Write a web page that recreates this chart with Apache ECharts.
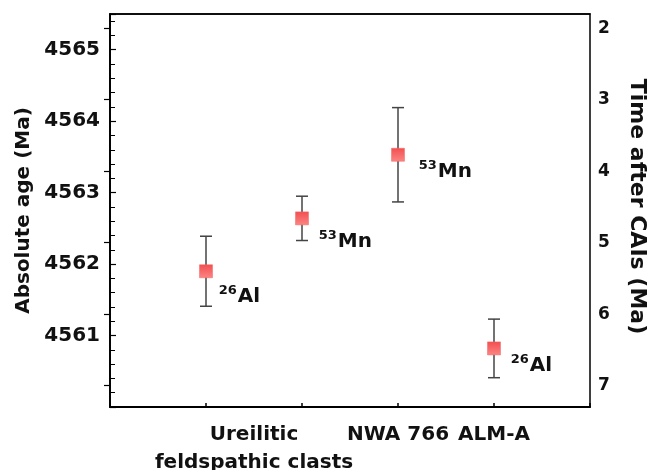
<!DOCTYPE html>
<html>
<head>
<meta charset="utf-8">
<script src="https://cdn.jsdelivr.net/npm/echarts@6/dist/echarts.min.js"></script>
<style>
html,body{margin:0;padding:0;background:#fff;}
#chart{width:655px;height:470px;}
</style>
</head>
<body>
<div id="chart"></div>
<script>
// ---- data ----
const pointX = [1, 2, 3, 4];
const ages = [4561.90, 4562.64, 4563.53, 4560.82];
const ageErr = [0.49, 0.31, 0.66, 0.41];
const isoMass = ['26', '53', '53', '26'];
const isoElem = ['Al', 'Mn', 'Mn', 'Al'];
const xLabelPos = [1.5, 3, 4];
const xLabelText = ['Ureilitic\nfeldspathic clasts', 'NWA 766', 'ALM-A'];
const ageMin = 4560, ageMax = 4565.5;
const caiAge = 4567.3;

// ---- layout (not data) ----
const labelNudge = [[13, 13], [17, 11], [21, 5], [17, 5]];

const chart = echarts.init(document.getElementById('chart'));
const FONT = 'DejaVu Sans';
const txt = '#111';

const scatterData = pointX.map((x, i) => ({
  value: [x, ages[i]],
  label: {
    formatter: '{sup|' + isoMass[i] + '}{el|' + isoElem[i] + '}',
    position: [6.5 + labelNudge[i][0], 6.5 + labelNudge[i][1]]
  }
}));
const errData = pointX.map((x, i) => [x, ages[i] - ageErr[i], ages[i] + ageErr[i]]);

chart.setOption({
  animation: false,
  textStyle: { fontFamily: FONT },
  grid: { left: 110, right: 65, top: 14, bottom: 63, containLabel: false, outerBoundsMode: 'none',
          show: true, borderColor: '#000', borderWidth: 1.5 },
  xAxis: [
    {
      type: 'value', min: 0, max: 5, interval: 1, position: 'bottom',
      axisLine: { show: true, lineStyle: { color: '#000', width: 2 } },
      axisTick: { show: true, inside: true, length: 4, lineStyle: { color: '#000', width: 1.5 } },
      axisLabel: { show: false },
      splitLine: { show: false }
    },
    {
      type: 'value', min: 0, max: 5, interval: 0.5, position: 'bottom',
      axisLine: { show: false }, axisTick: { show: false }, splitLine: { show: false },
      axisLabel: {
        show: true, margin: 14,
        fontFamily: FONT, fontWeight: 'bold', fontSize: 20, color: txt, lineHeight: 28,
        formatter: function (v) {
          const k = xLabelPos.findIndex(p => Math.abs(p - v) < 1e-6);
          return k >= 0 ? xLabelText[k] : '';
        }
      }
    },
    {
      type: 'value', min: 0, max: 5, position: 'top',
      axisLine: { show: true, lineStyle: { color: '#000', width: 1.5 } },
      axisTick: { show: false }, axisLabel: { show: false }, splitLine: { show: false }
    }
  ],
  yAxis: [
    {
      type: 'value', min: ageMin, max: ageMax, interval: 1, position: 'left',
      name: 'Absolute age (Ma)', nameLocation: 'middle', nameGap: 76, nameRotate: 90,
      nameTextStyle: { fontFamily: FONT, fontWeight: 'bold', fontSize: 20, color: txt },
      axisLine: { show: true, lineStyle: { color: '#000', width: 1.5 } },
      axisTick: { show: true, inside: true, length: 6, lineStyle: { color: '#000', width: 1.2 } },
      minorTick: { show: true, splitNumber: 5, length: 5, lineStyle: { color: '#000', width: 1 } },
      axisLabel: {
        margin: 10, fontFamily: FONT, fontWeight: 'bold', fontSize: 20, color: txt,
        showMinLabel: false, showMaxLabel: false,
        formatter: v => (v === ageMin ? '' : String(v))
      },
      splitLine: { show: false }
    },
    {
      type: 'value', min: caiAge - ageMax, max: caiAge - ageMin, inverse: true, position: 'right',
      name: 'Time after CAIs (Ma)', nameLocation: 'middle', nameGap: 36, nameRotate: -90,
      nameTextStyle: { fontFamily: FONT, fontWeight: 'bold', fontSize: 22, color: txt, padding: [0, 8, 0, 0] },
      axisLine: { show: true, lineStyle: { color: '#000', width: 1.5 } },
      axisTick: { show: true, inside: true, length: 6, lineStyle: { color: '#000', width: 1.2 } },
      axisLabel: {
        margin: 8, fontFamily: FONT, fontWeight: 'bold', fontSize: 17, color: txt,
        showMinLabel: false, showMaxLabel: false,
        formatter: v => (Math.abs(v - Math.round(v)) < 1e-6 ? String(Math.round(v)) : '')
      },
      splitLine: { show: false }
    }
  ],
  series: [
    {
      type: 'custom', xAxisIndex: 0, yAxisIndex: 0, z: 2,
      data: errData,
      renderItem: function (params, api) {
        const lo = api.coord([api.value(0), api.value(1)]);
        const hi = api.coord([api.value(0), api.value(2)]);
        const w = 6;
        const st = { stroke: '#444', lineWidth: 1.5 };
        return {
          type: 'group',
          children: [
            { type: 'line', shape: { x1: lo[0], y1: lo[1], x2: hi[0], y2: hi[1] }, style: st },
            { type: 'line', shape: { x1: lo[0] - w, y1: lo[1], x2: lo[0] + w, y2: lo[1] }, style: st },
            { type: 'line', shape: { x1: hi[0] - w, y1: hi[1], x2: hi[0] + w, y2: hi[1] }, style: st }
          ]
        };
      }
    },
    {
      type: 'scatter', xAxisIndex: 0, yAxisIndex: 0, z: 5,
      symbol: 'rect', symbolSize: 13,
      itemStyle: {
        color: new echarts.graphic.LinearGradient(0, 0, 0, 1, [
          { offset: 0, color: '#f34e50' },
          { offset: 1, color: '#fb8583' }
        ]),
        borderColor: '#f06462', borderWidth: 0.5, opacity: 1
      },
      label: {
        show: true, align: 'left', verticalAlign: 'top',
        rich: {
          sup: { fontFamily: FONT, fontWeight: 'bold', fontSize: 13, color: txt, padding: [0, 1, 12, 0] },
          el: { fontFamily: FONT, fontWeight: 'bold', fontSize: 20, color: txt }
        }
      },
      data: scatterData
    }
  ]
});
</script>
</body>
</html>
